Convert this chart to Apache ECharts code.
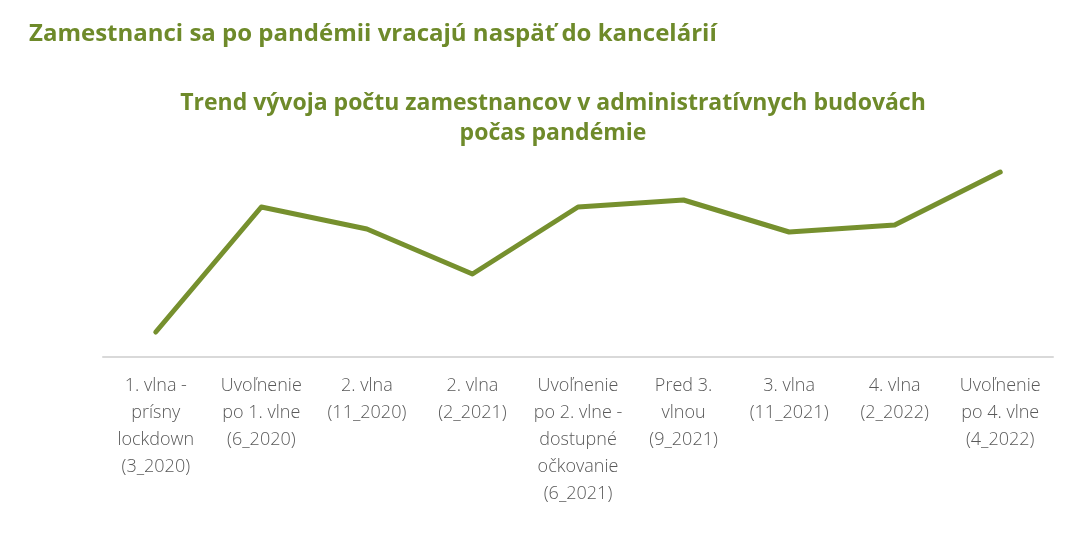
<!DOCTYPE html>
<html>
  <head>
    <meta charset="utf-8" />
    <title>Zamestnanci v kanceláriách</title>
    <script src="https://cdn.jsdelivr.net/npm/echarts@6.0.0/dist/echarts.min.js"></script>
    <style>
      body { margin: 0; background: #fff; }
    </style>
  </head>
  <body>
    <div id="main" style="width: 1079px;height:541px;"></div>

    <script type="text/javascript">
      // categories (line breaks as in the source chart)
      var categories = [
        '1. vlna -\nprísny\nlockdown\n(3_2020)',
        'Uvoľnenie\npo 1. vlne\n(6_2020)',
        '2. vlna\n(11_2020)',
        '2. vlna\n(2_2021)',
        'Uvoľnenie\npo 2. vlne -\ndostupné\nočkovanie\n(6_2021)',
        'Pred 3.\nvlnou\n(9_2021)',
        '3. vlna\n(11_2021)',
        '4. vlna\n(2_2022)',
        'Uvoľnenie\npo 4. vlne\n(4_2022)'
      ];
      // relative trend (no scale shown in the source)
      var trend = [25, 150, 128, 83, 150, 157, 125, 132, 185];

      var green = '#76902e';

      var myChart = echarts.init(document.getElementById('main'));

      var option = {
        backgroundColor: '#fff',
        title: [
          {
            text: 'Zamestnanci sa po pandémii vracajú naspäť do kancelárií',
            left: 24,
            top: 17,
            textStyle: {
              fontFamily: 'Open Sans',
              fontWeight: 'bold',
              fontSize: 24,
              color: '#6e8a2a'
            }
          },
          {
            text: 'Trend vývoja počtu zamestnancov v administratívnych budovách\npočas pandémie',
            left: 548,
            textAlign: 'center',
            top: 83,
            textStyle: {
              fontFamily: 'Open Sans',
              fontWeight: 'bold',
              fontSize: 23,
              lineHeight: 30,
              color: '#6e8a2a'
            }
          }
        ],
        grid: {
          left: 103,
          right: 26,
          top: 157,
          bottom: 184,
          containLabel: false
        },
        xAxis: {
          type: 'category',
          data: categories,
          boundaryGap: true,
          axisLine: { lineStyle: { color: '#d9d9d9', width: 2 } },
          axisTick: { show: false },
          axisLabel: {
            interval: 0,
            margin: 15,
            fontFamily: 'Open Sans',
            fontWeight: 300,
            fontSize: 18,
            lineHeight: 27,
            color: '#595959'
          }
        },
        yAxis: {
          type: 'value',
          min: 0,
          max: 200,
          show: false
        },
        series: [
          {
            type: 'line',
            data: trend,
            symbol: 'none',
            lineStyle: { color: green, width: 5, cap: 'round', join: 'round' },
            itemStyle: { color: green }
          }
        ]
      };

      myChart.setOption(option);
    </script>
  </body>
</html>
